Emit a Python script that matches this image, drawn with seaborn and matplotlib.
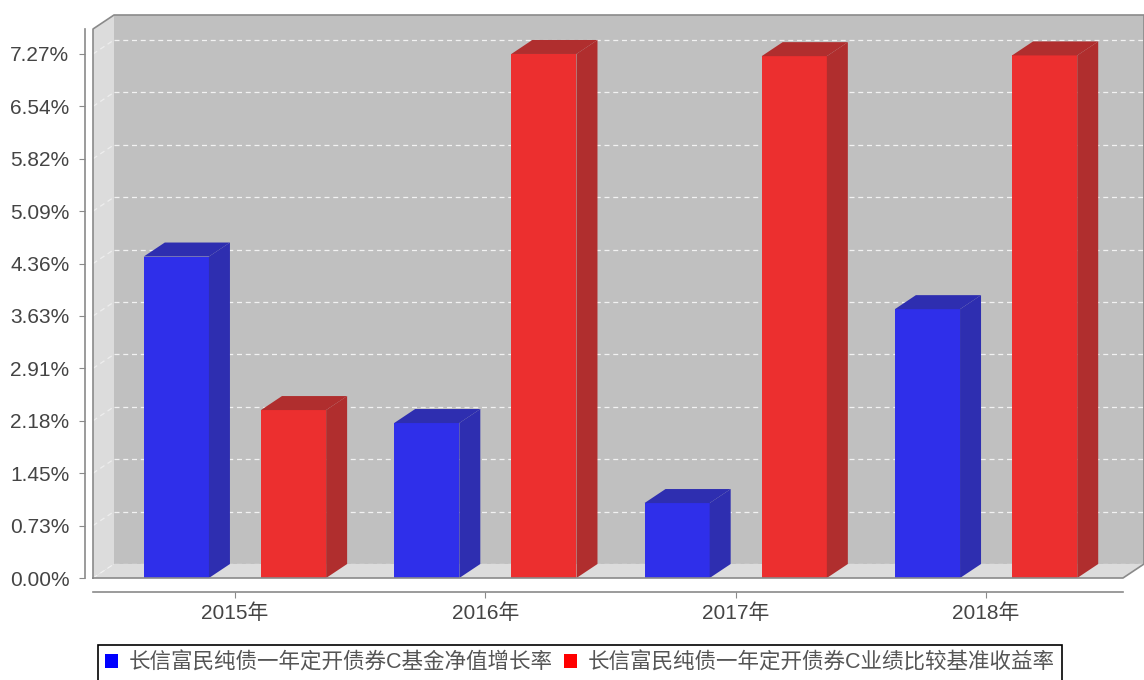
import pandas as pd
import matplotlib
matplotlib.use("Agg")
import matplotlib.pyplot as plt
import seaborn as sns
from matplotlib.patches import Polygon

# data
years = ["2015年", "2016年", "2017年", "2018年"]
series_names = ["长信富民纯债一年定开债券C基金净值增长率",
                "长信富民纯债一年定开债券C业绩比较基准收益率"]
nav_growth = [4.46, 2.15, 1.04, 3.73]
benchmark = [2.33, 7.27, 7.24, 7.25]
y_tick_labels = ["0.00%", "0.73%", "1.45%", "2.18%", "2.91%", "3.63%",
                 "4.36%", "5.09%", "5.82%", "6.54%", "7.27%"]
y_step = 0.727

front_colors = ["#2f2fea", "#ec2f2f"]
side_colors = ["#2e2eb0", "#b02e2e"]
legend_colors = ["#0000ff", "#ff0000"]

df = pd.DataFrame({
    "year": years * 2,
    "series": [series_names[0]] * 4 + [series_names[1]] * 4,
    "value": nav_growth + benchmark,
})

plt.rcParams["font.family"] = ["Liberation Sans", "Noto Sans CJK SC"]

W, H = 1144, 680
fig = plt.figure(figsize=(W / 100, H / 100), dpi=100)
# front face of the 3D box in pixels: x 93..1123, y 29..578
ax = fig.add_axes([93 / W, (H - 578) / H, (1123 - 93) / W, (578 - 29) / H])
ax.set_facecolor("none")

xl, xr = -0.567, 3.547
yb, yt = 0.0, 549 / 72.08
# depth of the 3D effect in data units (21px right, 14px up)
ddx = 21 / ((1123 - 93) / (xr - xl))
ddy = 14 / 72.08

sns.barplot(data=df, x="year", y="value", hue="series", hue_order=series_names,
            palette=front_colors, saturation=1, width=0.936, gap=0.444,
            errorbar=None, ax=ax, zorder=3, linewidth=0)
ax.set_xlim(xl, xr)
ax.set_ylim(yb, yt)

# back wall, side wall and floor
ax.add_patch(Polygon([(xl + ddx, ddy), (xr + ddx, ddy), (xr + ddx, yt + ddy), (xl + ddx, yt + ddy)],
                     closed=True, facecolor="#c0c0c0", edgecolor="none", zorder=0, clip_on=False))
ax.add_patch(Polygon([(xl, 0), (xl + ddx, ddy), (xl + ddx, yt + ddy), (xl, yt)],
                     closed=True, facecolor="#dcdcdc", edgecolor="none", zorder=1, clip_on=False))
ax.add_patch(Polygon([(xl, 0), (xr, 0), (xr + ddx, ddy), (xl + ddx, ddy)],
                     closed=True, facecolor="#dcdcdc", edgecolor="none", zorder=1, clip_on=False))

tick_vals = [i * y_step for i in range(len(y_tick_labels))]
for v in tick_vals:
    ax.plot([xl + ddx, xr + ddx], [v + ddy, v + ddy], color="white", lw=0.9,
            ls=(0, (4, 3)), alpha=0.8, zorder=0.5, clip_on=False)
    ax.plot([xl, xl + ddx], [v, v + ddy], color="white", lw=0.9,
            ls=(0, (4, 3)), alpha=0.5, zorder=1.5, clip_on=False)

# box outline
edge = "#8a8a8a"
ax.plot([xl, xl, xl + ddx, xr + ddx, xr + ddx, xr, xl],
        [0, yt, yt + ddy, yt + ddy, ddy, 0, 0],
        color=edge, lw=1.2, zorder=4, clip_on=False)

# 3D faces of the bars
for k, cont in enumerate(ax.containers):
    for r in cont:
        x0, w, h = r.get_x(), r.get_width(), r.get_height()
        ax.add_patch(Polygon([(x0, h), (x0 + w, h), (x0 + w + ddx, h + ddy), (x0 + ddx, h + ddy)],
                             closed=True, facecolor=side_colors[k], edgecolor="none",
                             zorder=3, clip_on=False))
        ax.add_patch(Polygon([(x0 + w, 0), (x0 + w + ddx, ddy), (x0 + w + ddx, h + ddy), (x0 + w, h)],
                             closed=True, facecolor=side_colors[k], edgecolor="none",
                             zorder=3, clip_on=False))

ax.set_yticks(tick_vals, y_tick_labels)
ax.set_xlabel(None)
ax.set_ylabel(None)
for s in ["top", "right"]:
    ax.spines[s].set_visible(False)
ax.spines["left"].set_position(("outward", 6))
ax.spines["bottom"].set_position(("outward", 10))
for s in ["left", "bottom"]:
    ax.spines[s].set_color(edge)
    ax.spines[s].set_linewidth(1.2)
ax.tick_params(axis="y", length=4, color=edge, labelsize=15, labelcolor="#444444", pad=7)
ax.tick_params(axis="x", length=4, color=edge, labelsize=15, labelcolor="#444444", pad=4)

handles, labels = ax.get_legend_handles_labels()
ax.get_legend().remove()
leg = fig.legend(handles, labels, loc="upper center", bbox_to_anchor=(580 / W, 1 - 634 / H),
                 ncol=2, frameon=True, fancybox=False, edgecolor="black", framealpha=1,
                 fontsize=15.5, handlelength=0.6, handleheight=0.6, handletextpad=0.5,
                 columnspacing=0.5, borderpad=0.35, labelcolor="#555555")
leg.get_frame().set_linewidth(1.2)
for h, c in zip(leg.legend_handles, legend_colors):
    h.set_facecolor(c)

fig.savefig("out.png", dpi=100)
